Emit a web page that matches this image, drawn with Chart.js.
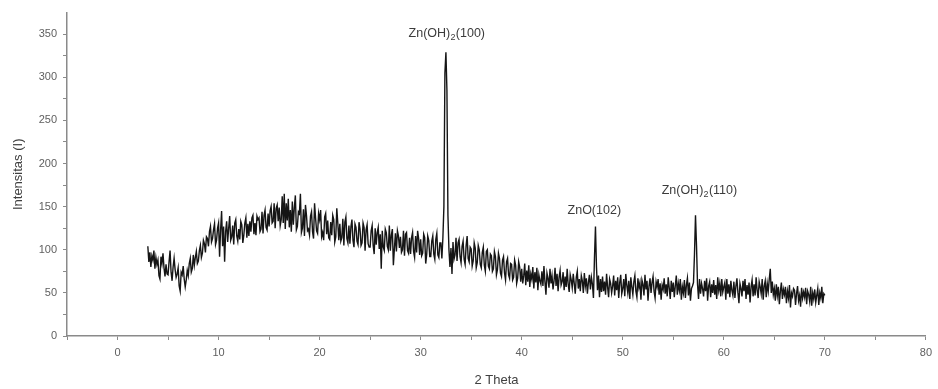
<!DOCTYPE html>
<html>
<head>
<meta charset="utf-8">
<script src="https://cdn.jsdelivr.net/npm/chart.js@4.4.0/dist/chart.umd.min.js"></script>
<style>
  html, body { margin: 0; padding: 0; background: #ffffff; }
  #wrap { width: 938px; height: 389px; }
</style>
</head>
<body>
<div id="wrap"><canvas id="xrdChart" width="938" height="389"></canvas></div>
<script>
// 2 theta runs from 3.0 to 70.0 in 0.1 steps, one row per degree
const thetaStart = 3.0;
const thetaStep = 0.1;

const intensity = [
  104, 86, 97, 80, 93, 88, 99, 78, 91, 83,          // 3
  88, 70, 66, 92, 84, 96, 79, 69, 83, 72,           // 4
  71, 86, 99, 74, 64, 80, 90, 77, 68, 72,           // 5
  79, 58, 52, 74, 71, 81, 66, 57, 65, 76,           // 6
  70, 84, 90, 74, 78, 94, 82, 91, 98, 84,           // 7
  87, 99, 105, 91, 96, 111, 107, 97, 115, 113,      // 8
  104, 121, 127, 109, 113, 123, 130, 106, 111, 125, // 9
  131, 92, 123, 145, 104, 127, 86, 121, 133, 109,   // 10
  125, 139, 111, 115, 128, 106, 131, 135, 116, 110, // 11
  124, 112, 133, 129, 108, 117, 131, 137, 114, 130, // 12
  116, 133, 121, 137, 140, 118, 131, 117, 139, 135, // 13
  137, 121, 124, 144, 119, 140, 146, 126, 123, 142, // 14
  127, 145, 150, 131, 133, 154, 125, 148, 152, 133, // 15
  149, 128, 135, 162, 131, 165, 124, 154, 134, 159, // 16
  126, 146, 121, 156, 129, 149, 163, 123, 127, 144, // 17
  142, 165, 120, 125, 147, 116, 152, 140, 122, 124, // 18
  117, 139, 144, 121, 113, 154, 137, 122, 119, 142, // 19
  135, 146, 115, 120, 111, 138, 142, 118, 134, 114, // 20
  112, 132, 117, 140, 135, 109, 115, 148, 131, 111, // 21
  130, 110, 114, 136, 105, 132, 138, 113, 108, 128, // 22
  107, 127, 135, 111, 103, 130, 126, 110, 106, 132, // 23
  124, 105, 108, 131, 126, 99, 123, 129, 107, 103,  // 24
  103, 122, 128, 105, 95, 125, 106, 120, 126, 101,  // 25
  118, 78, 122, 103, 99, 124, 120, 104, 100, 128,   // 26
  99, 117, 124, 82, 101, 119, 98, 122, 116, 102,    // 27
  115, 97, 100, 122, 93, 118, 120, 99, 96, 114,     // 28
  95, 114, 120, 98, 91, 116, 97, 122, 113, 94,      // 29
  112, 93, 96, 118, 114, 84, 95, 116, 111, 92,      // 30
  92, 110, 116, 95, 89, 112, 119, 94, 91, 108,      // 31
  108, 90, 114, 150, 305, 329, 285, 140, 100, 80,   // 32
  102, 72, 109, 89, 94, 114, 87, 108, 112, 92,      // 33
  85, 104, 110, 89, 83, 105, 116, 90, 86, 103,      // 34
  101, 81, 87, 108, 102, 79, 85, 105, 100, 83,      // 35
  79, 97, 103, 82, 75, 98, 100, 81, 78, 95,         // 36
  93, 75, 78, 98, 92, 71, 77, 96, 90, 73,           // 37
  69, 88, 92, 73, 65, 86, 90, 71, 67, 84,           // 38
  83, 65, 68, 88, 82, 61, 67, 86, 80, 63,           // 39
  78, 61, 70, 84, 59, 76, 63, 82, 57, 72,           // 40
  66, 80, 55, 74, 62, 79, 53, 71, 64, 60,           // 41
  75, 58, 81, 63, 48, 73, 67, 56, 78, 61,           // 42
  70, 54, 64, 79, 58, 72, 52, 68, 76, 59,           // 43
  63, 74, 53, 69, 57, 78, 60, 51, 71, 65,           // 44
  56, 72, 61, 49, 68, 75, 55, 66, 52, 70,           // 45
  64, 50, 73, 58, 67, 49, 62, 71, 54, 68,           // 46
  60, 44, 90, 127, 80, 53, 70, 45, 66, 51,          // 47
  69, 52, 63, 48, 72, 57, 45, 66, 61, 50,           // 48
  58, 70, 47, 64, 53, 68, 44, 62, 71, 49,           // 49
  55, 66, 46, 72, 59, 50, 64, 43, 68, 57,           // 50
  48, 63, 70, 52, 45, 67, 56, 62, 42, 65,           // 51
  60, 47, 71, 54, 64, 41, 58, 67, 50, 62,           // 52
  69, 52, 44, 63, 57, 66, 48, 61, 42, 59,           // 53
  54, 67, 49, 60, 46, 68, 56, 43, 64, 51,           // 54
  62, 45, 58, 70, 48, 61, 53, 66, 42, 57,           // 55
  50, 65, 44, 59, 67, 47, 62, 41, 55, 58,           // 56
  62, 95, 140, 105, 60, 43, 66, 49, 61, 55,         // 57
  46, 64, 52, 67, 41, 58, 63, 45, 60, 50,           // 58
  65, 48, 59, 43, 68, 53, 61, 46, 66, 51,           // 59
  57, 62, 42, 66, 49, 60, 45, 64, 53, 47,           // 60
  63, 44, 58, 67, 50, 38, 61, 55, 46, 64,           // 61
  52, 66, 43, 59, 48, 62, 39, 57, 65, 46,           // 62
  60, 47, 68, 53, 44, 63, 57, 49, 66, 42,           // 63
  58, 64, 45, 61, 52, 66, 78, 50, 63, 48,           // 64
  55, 41, 60, 47, 57, 37, 52, 62, 43, 54,           // 65
  48, 57, 38, 52, 44, 59, 33, 50, 46, 55,           // 66
  53, 36, 49, 58, 41, 47, 34, 56, 44, 51,           // 67
  45, 56, 37, 52, 48, 40, 57, 35, 50, 43,           // 68
  54, 39, 47, 55, 36, 50, 44, 57, 38, 49,           // 69
  47                                                // 70
];

const xTicks = [0, 10, 20, 30, 40, 50, 60, 70, 80];
const yTicks = [0, 50, 100, 150, 200, 250, 300, 350];

const peakLabels = ["Zn(OH)|2|(100)", "ZnO(102)", "Zn(OH)|2|(110)"];
const peakX = [32.6, 47.2, 57.6];
const peakY = [351, 145, 169];

const points = intensity.map((v, i) => ({ x: +(thetaStart + i * thetaStep).toFixed(1), y: v }));

// draws the peak names, "|2|" marks a subscript
const peakLabelPlugin = {
  id: 'peakLabels',
  afterDatasetsDraw(chart) {
    const ctx = chart.ctx;
    const xs = chart.scales.x, ys = chart.scales.y;
    ctx.save();
    ctx.fillStyle = '#3c3c3c';
    ctx.textBaseline = 'middle';
    peakLabels.forEach((lab, i) => {
      const parts = lab.split('|');
      const big = '12.5px "Liberation Sans", Arial, sans-serif';
      const small = '9px "Liberation Sans", Arial, sans-serif';
      let total = 0;
      parts.forEach((p, k) => {
        ctx.font = k % 2 ? small : big;
        total += ctx.measureText(p).width + 0.3;
      });
      let cx = xs.getPixelForValue(peakX[i]) - total / 2;
      const cy = ys.getPixelForValue(peakY[i]);
      parts.forEach((p, k) => {
        ctx.font = k % 2 ? small : big;
        ctx.fillText(p, cx, k % 2 ? cy + 4 : cy);
        cx += ctx.measureText(p).width + 0.3;
      });
    });
    ctx.restore();
  }
};

const axisColor = '#8a8a8a';
const tickFont = { family: '"Liberation Sans", Arial, sans-serif', size: 11 };

new Chart(document.getElementById('xrdChart').getContext('2d'), {
  type: 'line',
  data: {
    datasets: [{
      data: points,
      borderColor: '#151515',
      borderWidth: 1.4,
      pointRadius: 0,
      tension: 0,
      fill: false
    }]
  },
  options: {
    responsive: false,
    animation: false,
    layout: { padding: { left: 0, right: 7, top: 7, bottom: 0 } },
    plugins: { legend: { display: false }, tooltip: { enabled: false } },
    scales: {
      x: {
        type: 'linear',
        min: -5,
        max: 80,
        afterBuildTicks: axis => {
          axis.ticks = [];
          for (let v = -5; v <= 80; v += 5) axis.ticks.push({ value: v });
        },
        afterFit: scale => { scale.height = 53; },
        border: { color: axisColor, width: 1.5 },
        grid: { drawOnChartArea: false, tickLength: 4, color: axisColor, tickWidth: 1 },
        ticks: {
          padding: 6,
          color: '#606060',
          font: tickFont,
          maxRotation: 0,
          autoSkip: false,
          callback: v => xTicks.includes(v) ? v : ''
        },
        title: {
          display: true,
          text: '2 Theta',
          color: '#404040',
          font: { family: '"Liberation Sans", Arial, sans-serif', size: 13 },
          padding: { top: 0, bottom: 1 }
        }
      },
      y: {
        min: 0,
        max: 375,
        afterBuildTicks: axis => {
          axis.ticks = [];
          for (let v = 0; v <= 350; v += 25) axis.ticks.push({ value: v });
        },
        afterFit: scale => { scale.width = 67; },
        border: { color: axisColor, width: 1.5 },
        grid: { drawOnChartArea: false, tickLength: 4, color: axisColor, tickWidth: 1 },
        ticks: {
          padding: 6,
          color: '#606060',
          font: tickFont,
          autoSkip: false,
          callback: v => yTicks.includes(v) ? v : ''
        },
        title: {
          display: true,
          text: 'Intensitas (I)',
          color: '#404040',
          font: { family: '"Liberation Sans", Arial, sans-serif', size: 13 },
          padding: { top: 11, bottom: 0 }
        }
      }
    }
  },
  plugins: [peakLabelPlugin]
});
</script>
</body>
</html>
